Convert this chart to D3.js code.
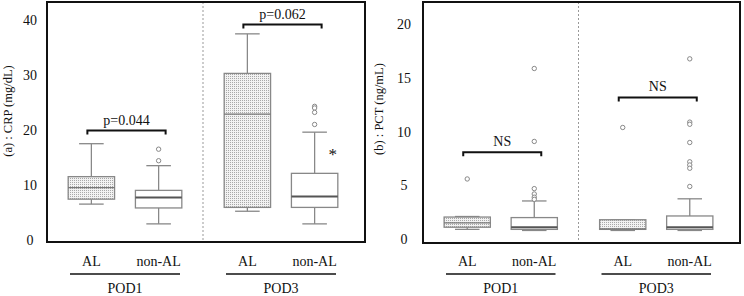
<!DOCTYPE html>
<html>
<head>
<meta charset="utf-8">
<script src="https://cdn.jsdelivr.net/npm/d3@7"></script>
<style>
  body { margin: 0; background: #fff; }
  text { font-family: "Liberation Serif", "DejaVu Serif", serif; fill: #111; }
</style>
</head>
<body>
<svg id="chart" width="744" height="296"></svg>
<script>
var groups = ["POD1", "POD3"];
var cats = ["AL", "non-AL"];

// [lower whisker, q1, median, q3, upper whisker] for POD1-AL, POD1-nonAL, POD3-AL, POD3-nonAL
var crpBoxes = [[6.5, 7.4, 9.5, 11.5, 17.5], [2.9, 5.8, 7.7, 9.0, 13.5], [5.2, 5.9, 22.9, 30.3, 37.5], [2.9, 5.9, 7.9, 12.1, 19.6]];
var crpOutliers = [[], [16.5, 14.4], [], [24.3, 24.0, 23.2, 21.0]];
var crpTicks = [0, 10, 20, 30, 40];
var crpTests = ["p=0.044", "p=0.062"];
var crpBracketAt = [19.9, 39.2];

var pctBoxes = [[0.9, 1.1, 1.5, 2.05, 2.1], [0.8, 0.9, 1.1, 2.0, 3.55], [0.8, 0.9, 0.95, 1.8, 1.8], [0.8, 0.9, 1.1, 2.15, 3.75]];
var pctOutliers = [[5.6], [15.9, 9.1, 4.7, 4.2, 3.9, 3.7], [10.4], [16.8, 10.9, 10.7, 9.0, 7.2, 6.9, 6.6, 4.9]];
var pctTicks = [0, 5, 10, 15, 20];
var pctTests = ["NS", "NS"];
var pctBracketAt = [8.1, 13.2];

var svg = d3.select("#chart");

// dotted fill used for the AL boxes
var defs = svg.append("defs");
var pat = defs.append("pattern").attr("id", "dots")
    .attr("width", 2).attr("height", 2).attr("patternUnits", "userSpaceOnUse");
pat.append("rect").attr("width", 2).attr("height", 2).attr("fill", "#f2f2f2");
pat.append("rect").attr("width", 1).attr("height", 1).attr("fill", "#a8a8a8");

function panel(cfg) {
  var g = svg.append("g");
  var y = d3.scaleLinear().domain(cfg.yDomain).range([cfg.bottom, cfg.top]);
  var outer = d3.scaleBand().domain(groups).range([cfg.left, cfg.right - 6]);
  var inner = d3.scalePoint().domain(cats).range([0, outer.bandwidth()]).padding(0.66);
  var bw = inner.step() * 0.69, cap = bw * 0.53;

  var rows = [];
  groups.forEach(function(gr, gi) {
    cats.forEach(function(c, ci) {
      var k = gi * 2 + ci;
      rows.push({grp: gr, cat: c, s: cfg.boxes[k], out: cfg.outliers[k], x: outer(gr) + inner(c)});
    });
  });

  // divider between POD groups
  g.append("line")
      .attr("x1", outer(groups[1])).attr("x2", outer(groups[1]))
      .attr("y1", cfg.top).attr("y2", cfg.bottom)
      .attr("stroke", "#999").attr("stroke-width", 1).attr("stroke-dasharray", "2,2");

  var box = g.selectAll(".box").data(rows).enter().append("g").attr("class", "box");

  box.append("line")
      .attr("x1", function(d) { return d.x; }).attr("x2", function(d) { return d.x; })
      .attr("y1", function(d) { return y(d.s[0]); }).attr("y2", function(d) { return y(d.s[4]); })
      .attr("stroke", "#888").attr("stroke-width", 1.3);
  box.selectAll(".cap").data(function(d) { return [[d.x, d.s[0]], [d.x, d.s[4]]]; })
    .enter().append("line")
      .attr("x1", function(d) { return d[0] - cap / 2; }).attr("x2", function(d) { return d[0] + cap / 2; })
      .attr("y1", function(d) { return y(d[1]); }).attr("y2", function(d) { return y(d[1]); })
      .attr("stroke", "#888").attr("stroke-width", 1.3);
  box.append("rect")
      .attr("x", function(d) { return d.x - bw / 2; })
      .attr("width", bw)
      .attr("y", function(d) { return y(d.s[3]); })
      .attr("height", function(d) { return y(d.s[1]) - y(d.s[3]); })
      .attr("fill", function(d) { return d.cat == "AL" ? "url(#dots)" : "#fff"; })
      .attr("stroke", "#888").attr("stroke-width", 1.3);
  box.append("line")
      .attr("x1", function(d) { return d.x - bw / 2; }).attr("x2", function(d) { return d.x + bw / 2; })
      .attr("y1", function(d) { return y(d.s[2]); }).attr("y2", function(d) { return y(d.s[2]); })
      .attr("stroke", function(d) { return d.cat == "AL" ? "#777" : "#555"; })
      .attr("stroke-width", function(d) { return d.cat == "AL" ? 1.3 : 2; });
  box.selectAll(".out").data(function(d) { return d.out.map(function(v) { return [d.x, v]; }); })
    .enter().append("circle")
      .attr("cx", function(d) { return d[0]; }).attr("cy", function(d) { return y(d[1]); })
      .attr("r", 2.2).attr("fill", "#fff").attr("stroke", "#888").attr("stroke-width", 1);

  // significance brackets
  groups.forEach(function(gr, gi) {
    var x0 = outer(gr) + inner(cats[0]) - 4, x1 = outer(gr) + inner(cats[1]) + 7;
    var yy = y(cfg.bracketAt[gi]);
    g.append("path")
        .attr("d", "M" + x0 + "," + (yy + 4) + "V" + yy + "H" + x1 + "V" + (yy + 4))
        .attr("fill", "none").attr("stroke", "#111").attr("stroke-width", 2);
    g.append("text")
        .attr("x", (x0 + x1) / 2).attr("y", yy - 6)
        .attr("text-anchor", "middle").style("font-size", "14px")
        .text(cfg.tests[gi]);
  });

  if (cfg.star) {
    g.append("text")
        .attr("x", rows[3].x + bw / 2 - 5).attr("y", y(cfg.star) + 8)
        .attr("text-anchor", "middle").style("font-size", "17px")
        .text("*");
  }

  // frame
  g.append("rect")
      .attr("x", cfg.left).attr("y", cfg.top)
      .attr("width", cfg.right - cfg.left).attr("height", cfg.bottom - cfg.top)
      .attr("fill", "none").attr("stroke", "#111").attr("stroke-width", 2);

  // y tick labels
  g.selectAll(".tick").data(cfg.ticks).enter().append("text")
      .attr("x", cfg.left - cfg.tickGap).attr("y", function(d) { return y(d); })
      .attr("dy", "0.35em").attr("text-anchor", "middle").style("font-size", "14px")
      .text(function(d) { return d; });

  g.append("text")
      .attr("transform", "translate(" + (cfg.left - cfg.titleGap) + "," + cfg.titleY + ") rotate(-90)")
      .attr("text-anchor", "middle").style("font-size", "12.5px")
      .text(cfg.title);

  // category and group labels under the frame
  rows.forEach(function(d) {
    g.append("text").attr("x", d.x).attr("y", 266)
        .attr("text-anchor", "middle").style("font-size", "14px").text(d.cat);
  });
  groups.forEach(function(gr) {
    var a = outer(gr) + 23, b = outer(gr) + outer.bandwidth() - 23;
    g.append("line").attr("x1", a).attr("x2", b).attr("y1", 274).attr("y2", 274)
        .attr("stroke", "#111").attr("stroke-width", 1.3);
    g.append("text").attr("x", (a + b) / 2).attr("y", 293)
        .attr("text-anchor", "middle").style("font-size", "14px").text(gr);
  });
}

panel({left: 47, right: 365, top: 2, bottom: 242, yDomain: [-0.4, 43.3], ticks: crpTicks, tickGap: 17,
       title: "(a) : CRP (mg/dL)", titleY: 111, titleGap: 35, boxes: crpBoxes, outliers: crpOutliers,
       bracketAt: crpBracketAt, tests: crpTests, star: 16});
panel({left: 423, right: 740, top: 2, bottom: 243, yDomain: [-0.37, 22.1], ticks: pctTicks, tickGap: 19,
       title: "(b) : PCT (ng/mL)", titleY: 109, titleGap: 40, boxes: pctBoxes, outliers: pctOutliers,
       bracketAt: pctBracketAt, tests: pctTests});
</script>
</body>
</html>
